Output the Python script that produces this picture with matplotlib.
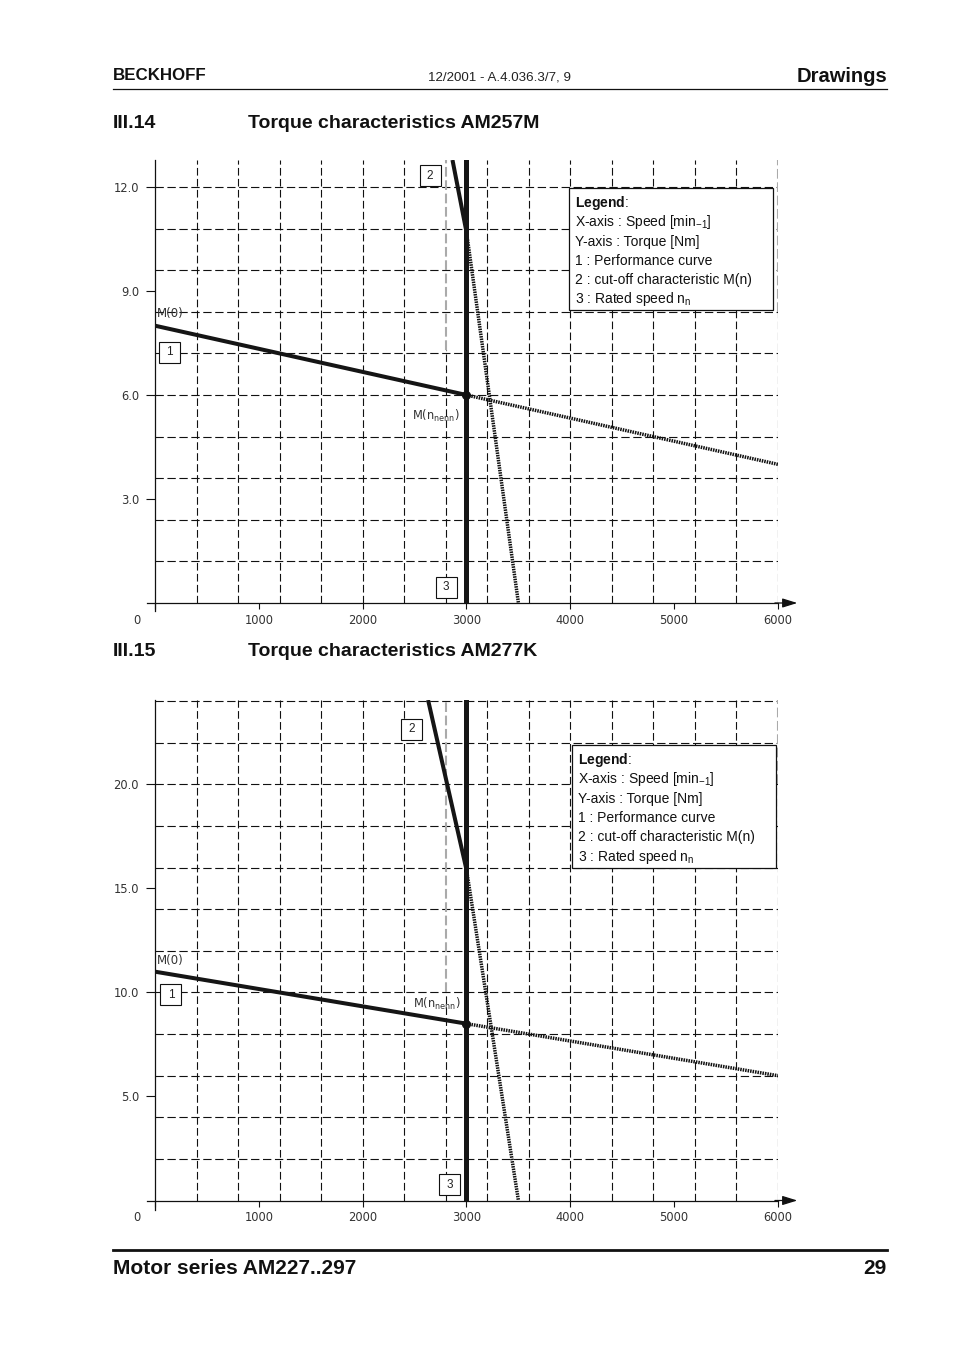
import matplotlib
matplotlib.use("Agg")
import matplotlib.pyplot as plt
from matplotlib.patches import Rectangle
from matplotlib.transforms import ScaledTranslation

plt.rcParams.update({
    "lines.scale_dashes": False,
    "font.family": ["DejaVu Sans"],
    "mathtext.fontset": "custom",
    "mathtext.rm": "Liberation Sans",
    "mathtext.bf": "Liberation Sans:bold",
    "mathtext.default": "regular",
})

W, H = 954, 1351          # output size in pixels
HEAD = ["Liberation Sans", "DejaVu Sans"]
ARIAL = ["Liberation Sans", "DejaVu Sans"]

# ---- data -------------------------------------------------------------
SPEED_TICKS = [0, 1000, 2000, 3000, 4000, 5000, 6000]
SPEED_GRID = [400, 800, 1200, 1600, 2000, 2400, 2800, 3200, 3600,
              4000, 4400, 4800, 5200, 5600, 6000]
RATED_SPEED = 3000
SPEED_MAX = 6000

# AM257M
m257_perf_speed = [0, 3000]
m257_perf_torque = [8.0, 6.0]
m257_perf_ext_speed = [3000, 6000]
m257_perf_ext_torque = [6.0, 4.0]
m257_cut_speed = [2865, 3000]
m257_cut_torque = [12.78, 10.7]
m257_cut_ext_speed = [3000, 3500]
m257_cut_ext_torque = [10.7, 0.0]
m257_yticks = [3.0, 6.0, 9.0, 12.0]
m257_ygrid = [1.2, 2.4, 3.6, 4.8, 6.0, 7.2, 8.4, 9.6, 10.8, 12.0]
m257_ymax = 12.78

# AM277K
m277_perf_speed = [0, 3000]
m277_perf_torque = [11.0, 8.5]
m277_perf_ext_speed = [3000, 6000]
m277_perf_ext_torque = [8.5, 6.0]
m277_cut_speed = [2630, 3000]
m277_cut_torque = [24.06, 15.9]
m277_cut_ext_speed = [3000, 3500]
m277_cut_ext_torque = [15.9, 0.0]
m277_yticks = [5.0, 10.0, 15.0, 20.0]
m277_ygrid = [2, 4, 6, 8, 10, 12, 14, 16, 18, 20, 22, 24]
m277_ymax = 24.06

LEGEND_LINES = [
    "X-axis : Speed [min$_{-1}$]",
    "Y-axis : Torque [Nm]",
    "1 : Performance curve",
    "2 : cut-off characteristic M(n)",
    "3 : Rated speed n$_{n}$",
]


def px(x, y):
    return x / W, 1 - y / H


def draw_chart(ax, perf, perf_ext, cut, cut_ext, yticks, ygrid, ymax,
               grey_from, labels, legend_box):
    ax.set_xlim(0, SPEED_MAX)
    ax.set_ylim(0, ymax)
    for s in ax.spines.values():
        s.set_visible(False)
    ax.set_facecolor("none")

    # grid
    for v in ygrid:
        ax.plot([0, SPEED_MAX], [v, v], color="#111", lw=0.8,
                ls=(0, (6, 2.6)), zorder=1)
    for v in SPEED_GRID:
        if v in grey_from:
            y0 = grey_from[v]
            ax.plot([v, v], [0, y0], color="#111", lw=0.8,
                    ls=(0, (5.5, 2.4)), zorder=1)
            ax.plot([v, v], [y0, ymax], color="#aaaaaa", lw=1.5,
                    ls=(0, (7, 2.6)), zorder=1)
        else:
            ax.plot([v, v], [0, ymax], color="#111", lw=0.8,
                    ls=(0, (5.5, 2.4)), zorder=1)

    # axes lines + arrow
    ax.plot([0, 0], [-0.018, 1], transform=ax.transAxes, color="#111",
            lw=0.9, clip_on=False, zorder=2)
    ax.plot([-0.013, 1.0], [0, 0], transform=ax.transAxes, color="#111",
            lw=0.9, clip_on=False, zorder=2)
    ax.annotate("", xy=(1.031, 0), xytext=(0.995, 0), xycoords="axes fraction",
                arrowprops=dict(arrowstyle="-|>,head_length=0.9,head_width=0.28",
                                color="#111", lw=0.9, shrinkA=0, shrinkB=0))

    # ticks
    ax.set_xticks(SPEED_TICKS)
    ax.set_xticklabels([""] + [str(t) for t in SPEED_TICKS[1:]])
    ax.set_yticks(yticks)
    ax.set_yticklabels([f"{v:.1f}" for v in yticks])
    ax.tick_params(axis="x", direction="out", length=4.5, width=0.8,
                   pad=3.2, labelsize=8.3, labelcolor="#333", color="#111")
    ax.tick_params(axis="y", direction="out", length=6.5, width=0.8,
                   pad=5.0, labelsize=8.3, labelcolor="#333", color="#111")
    ax.annotate("0", xy=(-173, 0), xytext=(0, -7.7), textcoords="offset points",
                ha="center", va="top", fontsize=8.3, color="#333",
                annotation_clip=False)

    # curves
    ax.plot(perf[0], perf[1], color="#151515", lw=2.9, zorder=4,
            solid_capstyle="butt")
    ax.plot(perf_ext[0], perf_ext[1], color="#111", lw=2.5,
            ls=(0, (1.1, 0.7)), zorder=3)
    ax.plot(cut[0], cut[1], color="#151515", lw=2.9, zorder=4,
            solid_capstyle="butt")
    ax.plot(cut_ext[0], cut_ext[1], color="#111", lw=2.5,
            ls=(0, (1.1, 0.7)), zorder=3)
    ax.axvline(RATED_SPEED, color="#151515", lw=3.6, zorder=5)
    ax.plot([perf[0][-1]], [perf[1][-1]], "o", ms=5.5, color="#111", zorder=6)

    # numbered boxes
    for txt, cx, cy in labels["boxes"]:
        tr = fig.dpi_scale_trans + ScaledTranslation(cx, cy, ax.transData)
        ax.add_patch(Rectangle((-0.105, -0.105), 0.21, 0.21, transform=tr,
                               fc="white", ec="#111", lw=0.8, zorder=7,
                               clip_on=False))
        ax.text(cx, cy, txt, ha="center", va="center", fontsize=8.5,
                family=ARIAL, color="#222", zorder=8)

    ax.text(labels["m0"][0], labels["m0"][1], "M(0)", ha="left",
            va="center", fontsize=8.5, color="#333", zorder=8)
    ax.text(labels["mn"][0], labels["mn"][1], r"M(n$_{\mathregular{nenn}}$)",
            ha="right", va="center", fontsize=8.3, color="#333", zorder=8)

    # legend box
    x0, y0, x1, y1 = legend_box
    ax.add_patch(Rectangle((x0, y0), x1 - x0, y1 - y0, transform=ax.transAxes,
                           fc="white", ec="#111", lw=0.9, zorder=9,
                           clip_on=False))
    line_h = 19.3
    tx = x0 + 6 / 623
    top_px = (1 - y1) * ax_h_px[ax] + 15
    for i, s in enumerate(["$\\mathbf{Legend}$:"] + LEGEND_LINES):
        yy = 1 - (top_px + i * line_h) / ax_h_px[ax]
        ax.text(tx, yy, s, transform=ax.transAxes, ha="left", va="center",
                fontsize=10, family=ARIAL, color="#111", zorder=10)


fig = plt.figure(figsize=(W / 100, H / 100), dpi=100)
fig.patch.set_facecolor("white")

ax1 = fig.add_axes([155 / W, 1 - 603 / H, 623 / W, 443 / H])
ax2 = fig.add_axes([155 / W, 1 - 1200.5 / H, 623 / W, 500.5 / H])
ax_h_px = {ax1: 443, ax2: 500.5}

draw_chart(ax1,
           (m257_perf_speed, m257_perf_torque),
           (m257_perf_ext_speed, m257_perf_ext_torque),
           (m257_cut_speed, m257_cut_torque),
           (m257_cut_ext_speed, m257_cut_ext_torque),
           m257_yticks, m257_ygrid, m257_ymax,
           {2800: 7.3, 6000: 8.4},
           {"boxes": [("2", 2649, 12.32), ("1", 135, 7.24), ("3", 2803, 0.46)],
            "m0": (20, 8.36), "mn": (2937, 5.39)},
           (0.6645, 0.661, 0.992, 0.9368))

draw_chart(ax2,
           (m277_perf_speed, m277_perf_torque),
           (m277_perf_ext_speed, m277_perf_ext_torque),
           (m277_cut_speed, m277_cut_torque),
           (m277_cut_ext_speed, m277_cut_ext_torque),
           m277_yticks, m277_ygrid, m277_ymax,
           {2800: 10.0, 6000: 20.0},
           {"boxes": [("2", 2475, 22.65), ("1", 154, 9.9), ("3", 2841, 0.75)],
            "m0": (20, 11.56), "mn": (2947, 9.45)},
           (0.669, 0.664, 0.997, 0.91))

# ---- page header / titles / footer ------------------------------------
fig.text(*px(113, 76), "BECKHOFF", ha="left", va="center", fontsize=12.2,
         fontweight="bold", family=HEAD, color="#111")
fig.text(*px(500, 78), "12/2001 - A.4.036.3/7, 9", ha="center", va="center",
         fontsize=9.6, family=HEAD, color="#222")
fig.text(*px(887, 76), "Drawings", ha="right", va="center", fontsize=14.5,
         fontweight="bold", family=HEAD, color="#111")
fig.add_artist(plt.Line2D([113 / W, 887 / W], [1 - 89 / H, 1 - 89 / H],
                          color="#111", lw=0.9))

fig.text(*px(113, 124), "III.14", ha="left", va="center", fontsize=14,
         fontweight="bold", family=HEAD, color="#111")
fig.text(*px(248, 124), "Torque characteristics AM257M", ha="left",
         va="center", fontsize=14, fontweight="bold", family=HEAD,
         color="#111")
fig.text(*px(113, 652), "III.15", ha="left", va="center", fontsize=14,
         fontweight="bold", family=HEAD, color="#111")
fig.text(*px(248, 652), "Torque characteristics AM277K", ha="left",
         va="center", fontsize=14, fontweight="bold", family=HEAD,
         color="#111")

fig.add_artist(plt.Line2D([113 / W, 887 / W], [1 - 1250 / H, 1 - 1250 / H],
                          color="#111", lw=2.0))
fig.text(*px(113, 1268), "Motor series AM227..297", ha="left", va="center",
         fontsize=15, fontweight="bold", family=HEAD, color="#111")
fig.text(*px(887, 1268), "29", ha="right", va="center", fontsize=15,
         fontweight="bold", family=HEAD, color="#111")

fig.savefig("out.png", dpi=100)
